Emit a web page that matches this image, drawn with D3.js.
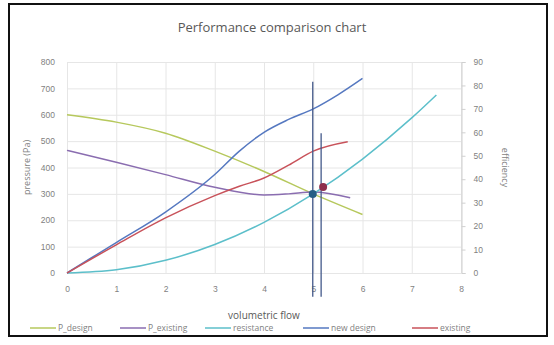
<!DOCTYPE html>
<html>
<head>
<meta charset="utf-8">
<script src="https://cdn.jsdelivr.net/npm/d3@7/dist/d3.min.js"></script>
<style>
  html, body { margin: 0; padding: 0; background: #fff; }
  svg { display: block; font-family: "Open Sans", "Liberation Sans", sans-serif; }
</style>
</head>
<body>
<svg id="chart" width="554" height="345"></svg>
<script>
// Pressure curves (left axis, Pa) against volumetric flow
const pDesign = [[0, 600], [1, 572], [2, 530], [3, 462], [4, 385], [5, 300], [6, 222]];
const pExisting = [[0, 465], [1, 420], [2, 373], [3, 325], [4, 296], [4.5, 300], [5, 307], [5.75, 285]];
const resistance = [[0, 0], [1, 12], [2, 48], [3, 108], [4, 192], [5, 300], [6, 432], [7, 588], [7.5, 675]];
// Efficiency curves (right axis)
const newDesign = [[0, 0], [1, 13], [2, 26], [3, 42], [3.5, 52], [4, 60], [4.5, 65.5], [5, 70], [5.5, 76], [6, 83]];
const existing = [[0, 0], [1, 12], [2, 23.5], [3, 33], [3.5, 37], [4, 40.5], [4.5, 46], [5, 52], [5.7, 56]];
// Operating points and their marker lines (pressure axis)
const opPoints = [[4.99, 300], [5.2, 326]];
const opLines = [[[4.99, -90], [4.99, 725]], [[5.16, -90], [5.16, 530]]];

const xTicks = [0, 1, 2, 3, 4, 5, 6, 7, 8];
const pTicks = [0, 100, 200, 300, 400, 500, 600, 700, 800];
const eTicks = [0, 10, 20, 30, 40, 50, 60, 70, 80, 90];

const legendNames = ["P_design", "P_existing", "resistance", "new design", "existing"];
const colors = ["#b6c85c", "#8a6db0", "#5cbfca", "#5578c0", "#c8525a"];

const svg = d3.select("#chart");
const m = { left: 67, right: 461, top: 62, bottom: 273 };

svg.append("rect").attr("x", 9).attr("y", 4).attr("width", 538).attr("height", 332)
  .attr("fill", "#fff").attr("stroke", "#111").attr("stroke-width", 2);

const x = d3.scaleLinear().domain([0, 8]).range([m.left, m.right]);
const yP = d3.scaleLinear().domain([0, 800]).range([m.bottom, m.top]);
const yE = d3.scaleLinear().domain([0, 90]).range([m.bottom, m.top]);

const textColor = "#7f7f7f";

// Gridlines
const grid = svg.append("g").attr("stroke", "#e6e6e6").attr("stroke-width", 1);
pTicks.forEach(t => grid.append("line")
  .attr("x1", m.left).attr("x2", m.right).attr("y1", yP(t) + 0.5).attr("y2", yP(t) + 0.5));
xTicks.forEach(t => grid.append("line")
  .attr("x1", x(t) + 0.5).attr("x2", x(t) + 0.5).attr("y1", m.top).attr("y2", m.bottom));

// Axes
const axisX = svg.append("g").attr("transform", `translate(0,${m.bottom + 0.5})`)
  .call(d3.axisBottom(x).tickValues(xTicks).tickSize(0).tickPadding(12));
const axisL = svg.append("g").attr("transform", `translate(${m.left},0)`)
  .call(d3.axisLeft(yP).tickValues(pTicks).tickSize(0).tickPadding(12));
const axisR = svg.append("g").attr("transform", `translate(${m.right + 0.5},0)`)
  .call(d3.axisRight(yE).tickValues(eTicks).tickSize(4).tickPadding(8));
[axisX, axisL].forEach(a => a.select(".domain").remove());
axisR.select(".domain").attr("stroke", "#d0d0d0");
axisR.selectAll(".tick line").attr("stroke", "#d0d0d0");
[axisX, axisL, axisR].forEach(a => a.selectAll("text")
  .attr("fill", textColor).style("font-size", "8.5px"));

// Curves
const lineP = d3.line().x(d => x(d[0])).y(d => yP(d[1])).curve(d3.curveMonotoneX);
const lineE = d3.line().x(d => x(d[0])).y(d => yE(d[1])).curve(d3.curveMonotoneX);
const curves = [
  [pDesign, lineP, colors[0]],
  [pExisting, lineP, colors[1]],
  [resistance, lineP, colors[2]],
  [newDesign, lineE, colors[3]],
  [existing, lineE, colors[4]]
];
curves.forEach(([data, gen, c]) => svg.append("path").datum(data)
  .attr("d", gen).attr("fill", "none").attr("stroke", c).attr("stroke-width", 1.5));

// Operating point marker lines and points
const straight = d3.line().x(d => x(d[0])).y(d => yP(d[1]));
opLines.forEach(l => svg.append("path").datum(l).attr("d", straight)
  .attr("stroke", "#44598a").attr("stroke-width", 1.3).attr("fill", "none"));
svg.append("circle").attr("cx", x(opPoints[0][0])).attr("cy", yP(opPoints[0][1]))
  .attr("r", 4).attr("fill", "#255e86");
svg.append("circle").attr("cx", x(opPoints[1][0])).attr("cy", yP(opPoints[1][1]))
  .attr("r", 4).attr("fill", "#8e2f4d");

// Title and axis titles
svg.append("text").attr("x", 272).attr("y", 32).attr("text-anchor", "middle")
  .attr("fill", "#595959").style("font-size", "13px").text("Performance comparison chart");
svg.append("text").attr("transform", `translate(30,${(m.top + m.bottom) / 2}) rotate(-90)`)
  .attr("text-anchor", "middle").attr("fill", textColor).style("font-size", "9px")
  .text("pressure (Pa)");
svg.append("text").attr("transform", `translate(502,${(m.top + m.bottom) / 2}) rotate(90)`)
  .attr("text-anchor", "middle").attr("fill", textColor).style("font-size", "9px")
  .text("efficiency");
svg.append("text").attr("x", 264).attr("y", 319).attr("text-anchor", "middle")
  .attr("fill", "#595959").style("font-size", "10px").text("volumetric flow");

// Legend
const legendX = [30, 120, 205, 303, 412];
const lg = svg.append("g");
legendNames.forEach((name, i) => {
  const g = lg.append("g").attr("transform", `translate(${legendX[i]},328)`);
  g.append("line").attr("x1", 0).attr("x2", 26).attr("y1", 0).attr("y2", 0)
    .attr("stroke", colors[i]).attr("stroke-width", 1.5);
  g.append("text").attr("x", 28).attr("y", 3).attr("fill", textColor)
    .style("font-size", "8.5px").text(name);
});
</script>
</body>
</html>
